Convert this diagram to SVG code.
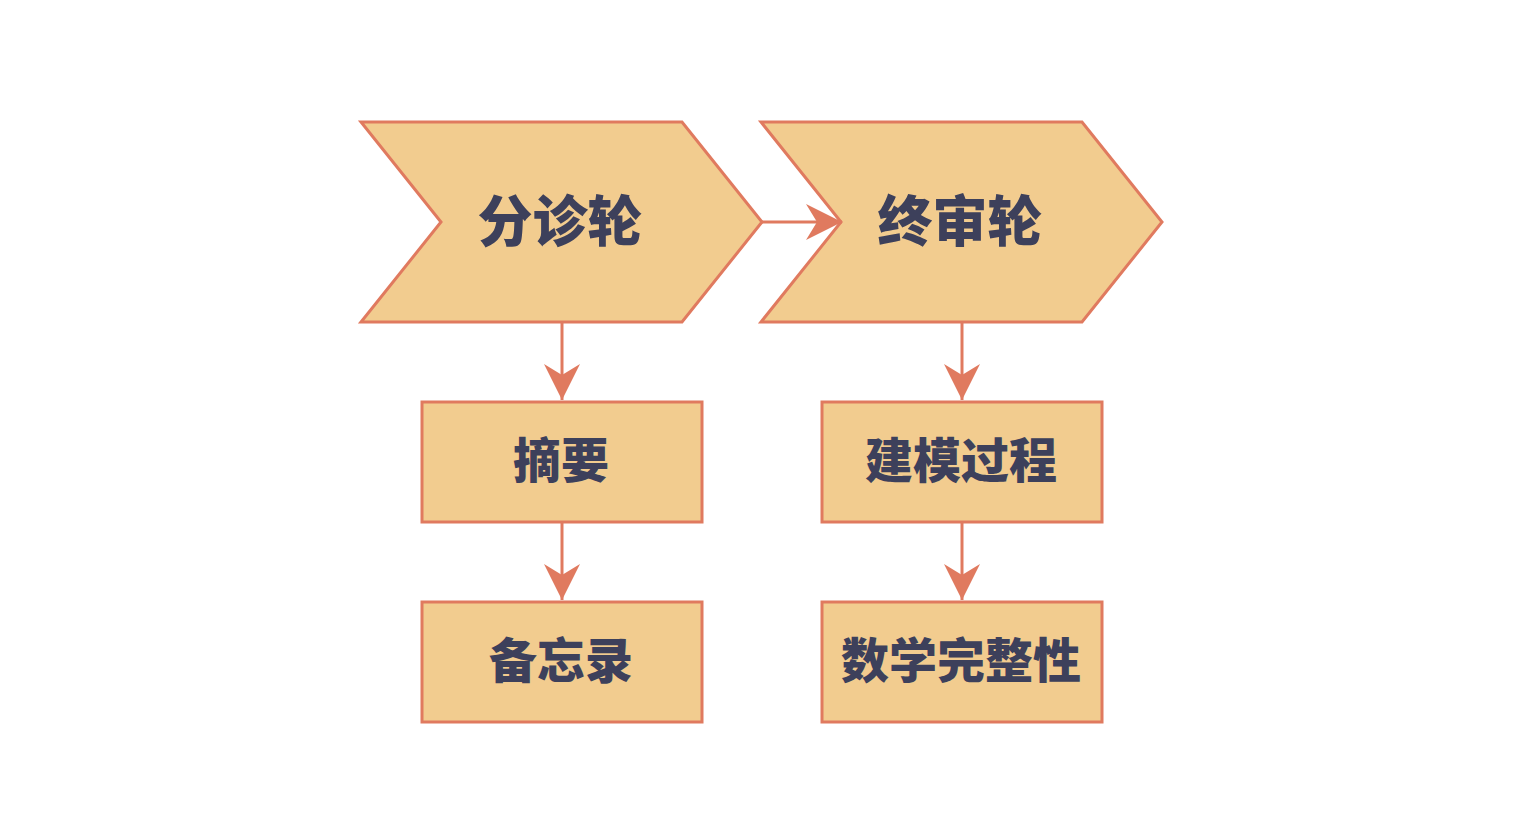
<svg xmlns="http://www.w3.org/2000/svg" width="1520" height="840" viewBox="0 0 1520 840">
<style>
.shape{fill:#F2CC8F;stroke:#E07A5F;stroke-width:3}
.lbl{font-family:"Noto Sans CJK SC","Noto Sans",sans-serif;font-weight:900;fill:#3D405B;text-anchor:middle;dominant-baseline:central}
.big{font-size:55px}
.small{font-size:48px}
.conn{stroke:#E07A5F;stroke-width:3;fill:none}
.head{fill:#E07A5F}
</style>
<defs>
<marker id="ah" markerUnits="userSpaceOnUse" viewBox="0 0 36 36" markerWidth="36" markerHeight="36" refX="36" refY="18" orient="auto">
<path d="M0,0 L36,18 L0,36 L11,18 Z" class="head"/>
</marker>
</defs>
<rect width="1520" height="840" fill="#ffffff"/>
<g id="node-fenzhen">
<polygon class="shape" points="361,122 682,122 762,222 682,322 361,322 441,222"/>
<text class="lbl big" x="560" y="217">分诊轮</text>
</g>
<g id="node-zhongshen">
<polygon class="shape" points="761,122 1082,122 1162,222 1082,322 761,322 841,222"/>
<text class="lbl big" x="960" y="217">终审轮</text>
</g>
<g id="node-zhaiyao">
<rect class="shape" x="422" y="402" width="280" height="120"/>
<text class="lbl small" x="561" y="457">摘要</text>
</g>
<g id="node-beiwanglu">
<rect class="shape" x="422" y="602" width="280" height="120"/>
<text class="lbl small" x="561" y="657">备忘录</text>
</g>
<g id="node-jianmo">
<rect class="shape" x="822" y="402" width="280" height="120"/>
<text class="lbl small" x="961" y="457">建模过程</text>
</g>
<g id="node-shuxue">
<rect class="shape" x="822" y="602" width="280" height="120"/>
<text class="lbl small" x="961" y="657">数学完整性</text>
</g>
<g id="connectors">
<line class="conn" x1="762" y1="222" x2="842" y2="222" marker-end="url(#ah)"/>
<line class="conn" x1="562" y1="322" x2="562" y2="400" marker-end="url(#ah)"/>
<line class="conn" x1="562" y1="522" x2="562" y2="600" marker-end="url(#ah)"/>
<line class="conn" x1="962" y1="322" x2="962" y2="400" marker-end="url(#ah)"/>
<line class="conn" x1="962" y1="522" x2="962" y2="600" marker-end="url(#ah)"/>
</g>
</svg>
